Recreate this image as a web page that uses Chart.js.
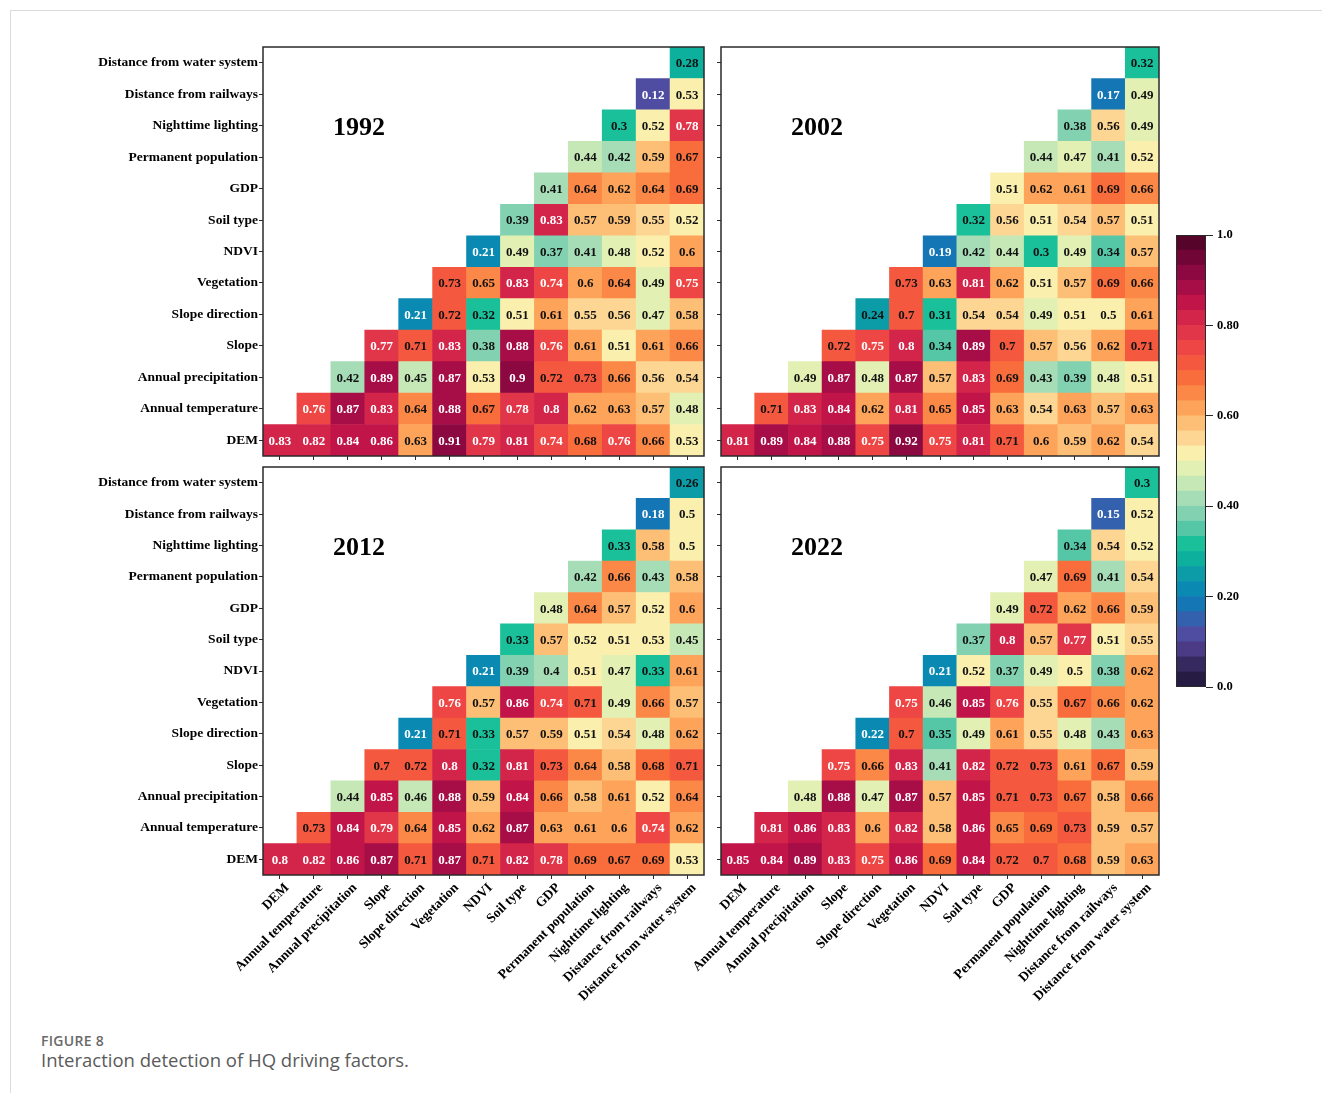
<!DOCTYPE html>
<html>
<head>
<meta charset="utf-8">
<script src="https://cdn.jsdelivr.net/npm/chart.js@4.4.0/dist/chart.umd.min.js"></script>
<style>
  html, body { margin: 0; padding: 0; background: #fff; }
  body { width: 1322px; height: 1093px; position: relative; overflow: hidden; }
  canvas { position: absolute; }
  .rule-top { position: absolute; left: 10px; top: 10px; width: 1312px; height: 1px; background: #dcdcdc; }
  .rule-left { position: absolute; left: 10px; top: 10px; width: 1px; height: 1083px; background: #dcdcdc; }
  .cap-num { position: absolute; left: 41px; top: 1031px; font: 600 14px "Open Sans", sans-serif; color: #6a6a6a; letter-spacing: 0.3px; }
  .cap-text { position: absolute; left: 41px; top: 1047px; font: 400 18.5px "Open Sans", sans-serif; color: #5a5a5a; }
</style>
</head>
<body>
<div class="rule-top"></div>
<div class="rule-left"></div>

<canvas id="p1992" style="left:0px;top:0px" width="712" height="462"></canvas>
<canvas id="p2002" style="left:712px;top:0px" width="450" height="462"></canvas>
<canvas id="p2012" style="left:0px;top:462px" width="712" height="560"></canvas>
<canvas id="p2022" style="left:600px;top:462px" width="562" height="560"></canvas>
<canvas id="cbar" style="left:1160px;top:220px" width="120" height="480"></canvas>

<div class="cap-num">FIGURE 8</div>
<div class="cap-text">Interaction detection of HQ driving factors.</div>

<script>
// Factor names (row i / column j order: DEM first)
const factors = [
  'DEM', 'Annual temperature', 'Annual precipitation', 'Slope', 'Slope direction',
  'Vegetation', 'NDVI', 'Soil type', 'GDP', 'Permanent population',
  'Nighttime lighting', 'Distance from railways', 'Distance from water system'
];

// Interaction q values; row i holds columns j = i .. 12
const q1992 = [
  [0.83, 0.82, 0.84, 0.86, 0.63, 0.91, 0.79, 0.81, 0.74, 0.68, 0.76, 0.66, 0.53],
  [0.76, 0.87, 0.83, 0.64, 0.88, 0.67, 0.78, 0.8, 0.62, 0.63, 0.57, 0.48],
  [0.42, 0.89, 0.45, 0.87, 0.53, 0.9, 0.72, 0.73, 0.66, 0.56, 0.54],
  [0.77, 0.71, 0.83, 0.38, 0.88, 0.76, 0.61, 0.51, 0.61, 0.66],
  [0.21, 0.72, 0.32, 0.51, 0.61, 0.55, 0.56, 0.47, 0.58],
  [0.73, 0.65, 0.83, 0.74, 0.6, 0.64, 0.49, 0.75],
  [0.21, 0.49, 0.37, 0.41, 0.48, 0.52, 0.6],
  [0.39, 0.83, 0.57, 0.59, 0.55, 0.52],
  [0.41, 0.64, 0.62, 0.64, 0.69],
  [0.44, 0.42, 0.59, 0.67],
  [0.3, 0.52, 0.78],
  [0.12, 0.53],
  [0.28]
];

const q2002 = [
  [0.81, 0.89, 0.84, 0.88, 0.75, 0.92, 0.75, 0.81, 0.71, 0.6, 0.59, 0.62, 0.54],
  [0.71, 0.83, 0.84, 0.62, 0.81, 0.65, 0.85, 0.63, 0.54, 0.63, 0.57, 0.63],
  [0.49, 0.87, 0.48, 0.87, 0.57, 0.83, 0.69, 0.43, 0.39, 0.48, 0.51],
  [0.72, 0.75, 0.8, 0.34, 0.89, 0.7, 0.57, 0.56, 0.62, 0.71],
  [0.24, 0.7, 0.31, 0.54, 0.54, 0.49, 0.51, 0.5, 0.61],
  [0.73, 0.63, 0.81, 0.62, 0.51, 0.57, 0.69, 0.66],
  [0.19, 0.42, 0.44, 0.3, 0.49, 0.34, 0.57],
  [0.32, 0.56, 0.51, 0.54, 0.57, 0.51],
  [0.51, 0.62, 0.61, 0.69, 0.66],
  [0.44, 0.47, 0.41, 0.52],
  [0.38, 0.56, 0.49],
  [0.17, 0.49],
  [0.32]
];

const q2012 = [
  [0.8, 0.82, 0.86, 0.87, 0.71, 0.87, 0.71, 0.82, 0.78, 0.69, 0.67, 0.69, 0.53],
  [0.73, 0.84, 0.79, 0.64, 0.85, 0.62, 0.87, 0.63, 0.61, 0.6, 0.74, 0.62],
  [0.44, 0.85, 0.46, 0.88, 0.59, 0.84, 0.66, 0.58, 0.61, 0.52, 0.64],
  [0.7, 0.72, 0.8, 0.32, 0.81, 0.73, 0.64, 0.58, 0.68, 0.71],
  [0.21, 0.71, 0.33, 0.57, 0.59, 0.51, 0.54, 0.48, 0.62],
  [0.76, 0.57, 0.86, 0.74, 0.71, 0.49, 0.66, 0.57],
  [0.21, 0.39, 0.4, 0.51, 0.47, 0.33, 0.61],
  [0.33, 0.57, 0.52, 0.51, 0.53, 0.45],
  [0.48, 0.64, 0.57, 0.52, 0.6],
  [0.42, 0.66, 0.43, 0.58],
  [0.33, 0.58, 0.5],
  [0.18, 0.5],
  [0.26]
];

const q2022 = [
  [0.85, 0.84, 0.89, 0.83, 0.75, 0.86, 0.69, 0.84, 0.72, 0.7, 0.68, 0.59, 0.63],
  [0.81, 0.86, 0.83, 0.6, 0.82, 0.58, 0.86, 0.65, 0.69, 0.73, 0.59, 0.57],
  [0.48, 0.88, 0.47, 0.87, 0.57, 0.85, 0.71, 0.73, 0.67, 0.58, 0.66],
  [0.75, 0.66, 0.83, 0.41, 0.82, 0.72, 0.73, 0.61, 0.67, 0.59],
  [0.22, 0.7, 0.35, 0.49, 0.61, 0.55, 0.48, 0.43, 0.63],
  [0.75, 0.46, 0.85, 0.76, 0.55, 0.67, 0.66, 0.62],
  [0.21, 0.52, 0.37, 0.49, 0.5, 0.38, 0.62],
  [0.37, 0.8, 0.57, 0.77, 0.51, 0.55],
  [0.49, 0.72, 0.62, 0.66, 0.59],
  [0.47, 0.69, 0.41, 0.54],
  [0.34, 0.54, 0.52],
  [0.15, 0.52],
  [0.3]
];

// Colour bar ticks
const cbTickValues = [0, 0.2, 0.4, 0.6, 0.8, 1.0];
const cbTickLabels = ['0.0', '0.20', '0.40', '0.60', '0.80', '1.0'];

// ---------- colour map (discrete, 30 bands) ----------
const cmapStops = [
  [0.00, '#1e1535'], [0.05, '#352a60'], [0.10, '#56449a'], [0.13, '#4a55a8'],
  [0.17, '#1d6cb2'], [0.20, '#0a82b8'], [0.24, '#0a96aa'], [0.28, '#0cae9c'],
  [0.31, '#0ebe98'], [0.35, '#56c7a6'], [0.40, '#98d8b6'], [0.45, '#c6e8b6'],
  [0.49, '#e8f3b2'], [0.52, '#fcefac'], [0.55, '#fdd694'], [0.60, '#fdb367'],
  [0.64, '#fc9049'], [0.68, '#f96e3b'], [0.72, '#f4573f'], [0.76, '#ea4047'],
  [0.80, '#da2d4a'], [0.84, '#c8184a'], [0.88, '#aa0d47'], [0.92, '#880840'],
  [0.96, '#690432'], [1.00, '#4a0426']
];
const N_BANDS = 30;

function hexToRgb(h) {
  return [parseInt(h.slice(1, 3), 16), parseInt(h.slice(3, 5), 16), parseInt(h.slice(5, 7), 16)];
}
function cmap(t) {
  t = Math.max(0, Math.min(1, t));
  for (let k = 1; k < cmapStops.length; k++) {
    const [t1, c1] = cmapStops[k];
    const [t0, c0] = cmapStops[k - 1];
    if (t <= t1) {
      const f = (t - t0) / (t1 - t0);
      const a = hexToRgb(c0), b = hexToRgb(c1);
      const r = a.map((x, i) => Math.round(x + (b[i] - x) * f));
      return `rgb(${r[0]},${r[1]},${r[2]})`;
    }
  }
  return cmapStops[cmapStops.length - 1][1];
}
function bandColor(v) {
  const k = Math.min(N_BANDS - 1, Math.floor(v * N_BANDS + 1e-9));
  return cmap((k + 0.5) / N_BANDS);
}
function textColor(v) {
  return (v >= 0.74 || v <= 0.22) ? '#ffffff' : '#111111';
}

const SERIF = '"Liberation Serif", "Times New Roman", serif';

// Writes values into cells, frames the plot area and places the year title
const cellText = {
  id: 'cellText',
  afterDatasetsDraw(chart, args, opts) {
    const ctx = chart.ctx;
    const a = chart.chartArea;
    ctx.save();
    ctx.font = `bold 13px ${SERIF}`;
    ctx.textAlign = 'center';
    ctx.textBaseline = 'middle';
    chart.data.datasets.forEach((ds, i) => {
      const meta = chart.getDatasetMeta(i);
      meta.data.forEach((bar, j) => {
        if (j < i) return;
        const v = ds.qvals[j - i];
        const c = bar.getCenterPoint();
        ctx.fillStyle = textColor(v);
        ctx.fillText(String(v), c.x, c.y + 1);
      });
    });
    ctx.strokeStyle = '#2a2a2a';
    ctx.lineWidth = 1.5;
    ctx.strokeRect(a.left, a.top, a.right - a.left, a.bottom - a.top);
    ctx.fillStyle = '#000';
    ctx.font = `bold 26px ${SERIF}`;
    ctx.fillText(opts.title, a.left + 96, a.top + 81);
    ctx.restore();
  }
};

function makePanel(id, values, title, cfg) {
  const datasets = values.map((row, i) => ({
    data: factors.map((_, j) => (j >= i ? [i - 0.5, i + 0.5] : null)),
    backgroundColor: factors.map((_, j) => (j >= i ? bandColor(row[j - i]) : 'rgba(0,0,0,0)')),
    borderWidth: 0,
    barPercentage: 1,
    categoryPercentage: 1,
    grouped: false,
    qvals: row
  }));

  new Chart(document.getElementById(id), {
    type: 'bar',
    data: { labels: factors, datasets },
    options: {
      responsive: false,
      animation: false,
      devicePixelRatio: 1,
      layout: { padding: cfg.padding },
      plugins: {
        legend: { display: false },
        tooltip: { enabled: false },
        cellText: { title }
      },
      scales: {
        x: {
          type: 'category',
          offset: true,
          grid: { display: true, drawOnChartArea: false, drawTicks: true, tickLength: 4, offset: false, color: '#2a2a2a', tickColor: '#2a2a2a' },
          border: { display: false },
          ticks: {
            display: cfg.showX,
            autoSkip: false,
            maxRotation: 45,
            minRotation: 45,
            padding: 1,
            labelOffset: 7,
            color: '#000',
            font: { family: SERIF, size: 13.5, weight: 'bold' }
          },
          afterFit(s) { s.height = cfg.xHeight; s.paddingLeft = 0; s.paddingRight = 0; }
        },
        y: {
          type: 'linear',
          min: -0.5,
          max: 12.5,
          grid: { display: true, drawOnChartArea: false, drawTicks: true, tickLength: 4, color: '#2a2a2a', tickColor: '#2a2a2a' },
          border: { display: false },
          afterBuildTicks(s) { s.ticks = factors.map((_, i) => ({ value: i })); },
          ticks: {
            display: cfg.showY,
            padding: 1,
            color: '#000',
            font: { family: SERIF, size: 13.5, weight: 'bold' },
            callback: (v) => factors[v]
          },
          afterFit(s) { s.width = cfg.yWidth; s.paddingTop = 0; s.paddingBottom = 0; }
        }
      }
    },
    plugins: [cellText]
  });
}

makePanel('p1992', q1992, '1992', { padding: { left: 0, right: 8, top: 47, bottom: 0 }, xHeight: 6, yWidth: 263, showX: false, showY: true });
makePanel('p2002', q2002, '2002', { padding: { left: 0, right: 3, top: 47, bottom: 0 }, xHeight: 6, yWidth: 9, showX: false, showY: false });
makePanel('p2012', q2012, '2012', { padding: { left: 0, right: 8, top: 5, bottom: 0 }, xHeight: 147, yWidth: 263, showX: true, showY: true });
makePanel('p2022', q2022, '2022', { padding: { left: 0, right: 3, top: 5, bottom: 0 }, xHeight: 147, yWidth: 121, showX: true, showY: false });

// ---------- colour bar ----------
const cbFrame = {
  id: 'cbFrame',
  afterDatasetsDraw(chart) {
    const a = chart.chartArea;
    const ctx = chart.ctx;
    ctx.save();
    ctx.strokeStyle = '#2a2a2a';
    ctx.lineWidth = 1;
    ctx.strokeRect(a.left + 0.5, a.top + 0.5, a.right - a.left - 1, a.bottom - a.top - 1);
    ctx.restore();
  }
};

const cbDatasets = [];
for (let k = 0; k < N_BANDS; k++) {
  cbDatasets.push({
    data: [[k / N_BANDS, (k + 1) / N_BANDS]],
    backgroundColor: cmap((k + 0.5) / N_BANDS),
    borderWidth: 0,
    barPercentage: 1,
    categoryPercentage: 1,
    grouped: false
  });
}

new Chart(document.getElementById('cbar'), {
  type: 'bar',
  data: { labels: [''], datasets: cbDatasets },
  options: {
    responsive: false,
    animation: false,
    devicePixelRatio: 1,
    layout: { padding: { left: 16, right: 0, top: 15, bottom: 13 } },
    plugins: { legend: { display: false }, tooltip: { enabled: false } },
    scales: {
      x: { display: false, offset: true },
      y: {
        type: 'linear',
        position: 'right',
        min: 0,
        max: 1,
        grid: { display: true, drawOnChartArea: false, drawTicks: true, tickLength: 7, color: '#2a2a2a', tickColor: '#2a2a2a' },
        border: { display: false },
        afterBuildTicks(s) { s.ticks = cbTickValues.map((v) => ({ value: v })); },
        ticks: {
          padding: 4,
          color: '#000',
          font: { family: SERIF, size: 12.5, weight: 'bold' },
          callback: (v) => cbTickLabels[cbTickValues.indexOf(v)]
        },
        afterFit(s) { s.width = 74; s.paddingTop = 0; s.paddingBottom = 0; }
      }
    }
  },
  plugins: [cbFrame]
});
</script>
</body>
</html>
